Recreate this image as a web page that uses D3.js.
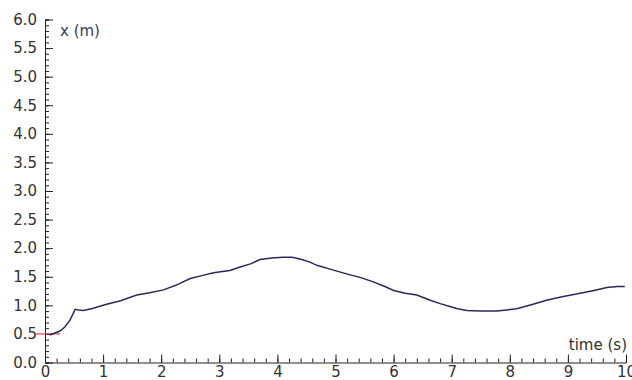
<!DOCTYPE html>
<html>
<head>
<meta charset="utf-8">
<script src="https://cdn.jsdelivr.net/npm/d3@7"></script>
<style>
  body { margin: 0; background: #fff; }
  svg text { font-family: 'DejaVu Sans', Verdana, sans-serif; }
</style>
</head>
<body>
<div id="chart"></div>
<script>
// position vs time
var times = [0.08, 0.18, 0.26, 0.34, 0.43, 0.52, 0.58, 0.66, 0.8, 1.06, 1.3, 1.58, 1.8, 2.04, 2.25, 2.5, 2.7, 2.9, 3.18, 3.36, 3.55, 3.7, 3.9, 4.1, 4.25, 4.39, 4.55, 4.68, 4.95, 5.19, 5.45, 5.65, 5.85, 6.0, 6.2, 6.4, 6.63, 6.8, 6.97, 7.1, 7.26, 7.5, 7.77, 7.95, 8.12, 8.4, 8.63, 8.9, 9.21, 9.45, 9.67, 9.85, 9.98];
var positions = [0.48, 0.52, 0.55, 0.62, 0.74, 0.93, 0.92, 0.91, 0.94, 1.02, 1.08, 1.18, 1.22, 1.27, 1.35, 1.47, 1.52, 1.57, 1.61, 1.67, 1.73, 1.80, 1.83, 1.84, 1.84, 1.81, 1.76, 1.70, 1.62, 1.55, 1.48, 1.41, 1.33, 1.26, 1.21, 1.18, 1.09, 1.03, 0.98, 0.94, 0.91, 0.90, 0.90, 0.92, 0.94, 1.02, 1.09, 1.15, 1.21, 1.26, 1.31, 1.33, 1.33];

var xMajor = [0, 1, 2, 3, 4, 5, 6, 7, 8, 9, 10];
var yMajor = [0, 0.5, 1, 1.5, 2, 2.5, 3, 3.5, 4, 4.5, 5, 5.5, 6];
var xMinor = d3.range(0, 10.001, 0.2);
var yMinor = d3.range(0, 6.001, 0.1);

// red reference marker
var markerValue = 0.5;
var markerSpan = [-0.17, 0.26];

var width = 632, height = 380;

var x = d3.scaleLinear().domain([0, 10]).range([45, 626]);
var y = d3.scaleLinear().domain([0, 6]).range([362.5, 19.5]);

var svg = d3.select('#chart').append('svg')
  .attr('width', width)
  .attr('height', height);

function styleAxis(g) {
  g.attr('font-family', "'DejaVu Sans', Verdana, sans-serif").attr('font-size', 15);
  g.selectAll('.domain').attr('stroke', '#222');
  g.selectAll('.tick line').attr('stroke', '#222');
  g.selectAll('.tick text').attr('fill', '#333');
}

// y axis: minor then major
svg.append('g')
  .attr('transform', 'translate(' + x(0) + ',0)')
  .call(d3.axisLeft(y).tickValues(yMinor).tickSize(-4).tickFormat(''))
  .call(styleAxis);
svg.append('g')
  .attr('transform', 'translate(' + x(0) + ',0)')
  .call(d3.axisLeft(y).tickValues(yMajor).tickSize(-8).tickPadding(8).tickFormat(d3.format('.1f')))
  .call(styleAxis)
  .call(function (g) { g.selectAll('.domain').remove(); });

// x axis
svg.append('g')
  .attr('transform', 'translate(0,' + y(0) + ')')
  .call(d3.axisBottom(x).tickValues(xMinor).tickSize(-4).tickFormat(''))
  .call(styleAxis);
svg.append('g')
  .attr('transform', 'translate(0,' + y(0) + ')')
  .call(d3.axisBottom(x).tickValues(xMajor).tickSize(-8).tickPadding(4).tickFormat(d3.format('d')))
  .call(styleAxis)
  .call(function (g) { g.selectAll('.domain').remove(); });

// axis titles
svg.append('text')
  .attr('x', 60).attr('y', 36)
  .attr('font-size', 15)
  .attr('fill', '#3a3a5a')
  .text('x (m)');
svg.append('text')
  .attr('x', 627).attr('y', 350)
  .attr('text-anchor', 'end')
  .attr('font-size', 15)
  .attr('fill', '#333')
  .text('time (s)');

// red marker
svg.append('line')
  .attr('x1', x(markerSpan[0])).attr('x2', x(markerSpan[1]))
  .attr('y1', y(markerValue)).attr('y2', y(markerValue))
  .attr('stroke', '#e03a4a')
  .attr('stroke-width', 1.2);

// data line
var pts = times.map(function (t, i) { return [t, positions[i]]; });
svg.append('path')
  .datum(pts)
  .attr('fill', 'none')
  .attr('stroke', '#2a2a58')
  .attr('stroke-width', 1.5)
  .attr('d', d3.line()
    .x(function (d) { return x(d[0]); })
    .y(function (d) { return y(d[1]); }));
</script>
</body>
</html>
